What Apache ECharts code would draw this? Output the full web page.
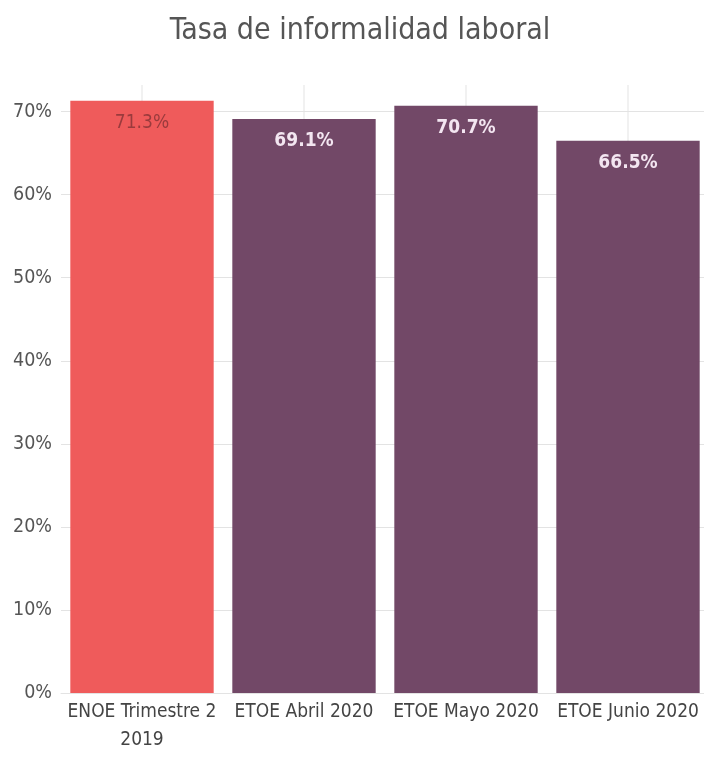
<!DOCTYPE html>
<html><head><meta charset="utf-8">
<script src="https://cdn.jsdelivr.net/npm/echarts@6/dist/echarts.min.js"></script>
<style>html,body{margin:0;padding:0;background:#fff}#c{width:704px;height:759px}</style>
</head><body><div id="c"></div>
<script>
const categories = ['ENOE Trimestre 2\n2019', 'ETOE Abril 2020', 'ETOE Mayo 2020', 'ETOE Junio 2020'];
const values = [71.3, 69.1, 70.7, 66.5];
const barColors = ['#EF5B5B', '#724867', '#724867', '#724867'];
const labelColors = ['#9a3b3d', '#f3e6f1', '#f3e6f1', '#f3e6f1'];
const yTicks = [0, 10, 20, 30, 40, 50, 60, 70];
const yMax = 73.2;
const FONT = '"DejaVu Sans Condensed", sans-serif';

const chart = echarts.init(document.getElementById('c'), null, {renderer: 'canvas'});
chart.setOption({
  animation: false,
  backgroundColor: '#fff',
  title: {
    text: 'Tasa de informalidad laboral', left: 355, top: 11, textAlign: 'center',
    textStyle: {fontFamily: FONT, fontSize: 30, fontWeight: 'normal', color: '#555'}
  },
  grid: {left: 61, top: 85, width: 648, bottom: 66, containLabel: false, outerBoundsMode: 'none'},
  xAxis: [{
    type: 'category', data: categories,
    axisLine: {show: true, lineStyle: {color: '#e3e3e3'}},
    axisTick: {show: false},
    axisLabel: {fontFamily: FONT, fontSize: 19, color: '#444', margin: 5, lineHeight: 28, interval: 0},
    splitLine: {show: false}
  }, {
    type: 'category', data: categories, show: false
  }],
  yAxis: {
    type: 'value', min: 0, max: yMax, interval: 10,
    axisLine: {show: false}, axisTick: {show: false},
    axisLabel: {
      fontFamily: FONT, fontSize: 19.5, color: '#555', margin: 9,
      formatter: v => yTicks.includes(Math.round(v * 10) / 10) ? v + '%' : ''
    },
    splitLine: {show: true, lineStyle: {width: 1, color: ['#e3e3e3','#e3e3e3','#e3e3e3','#e3e3e3','#e3e3e3','#e3e3e3','#e3e3e3','#e3e3e3','rgba(0,0,0,0)']}}
  },
  series: [{
    type: 'bar', xAxisIndex: 1, barWidth: 1, silent: true, z: 1,
    data: categories.map(() => yMax),
    itemStyle: {color: '#e3e3e3'}
  }, {
    type: 'bar', xAxisIndex: 0, barWidth: '88.5%', z: 3,
    data: values.map((v, i) => ({
      value: v,
      itemStyle: {color: barColors[i]},
      label: {color: labelColors[i], fontWeight: i === 0 ? 'normal' : 'bold'}
    })),
    label: {
      show: true, position: 'insideTop', distance: 13,
      fontFamily: FONT, fontSize: 19,
      formatter: p => p.value.toFixed(1) + '%'
    }
  }]
});
</script></body></html>
